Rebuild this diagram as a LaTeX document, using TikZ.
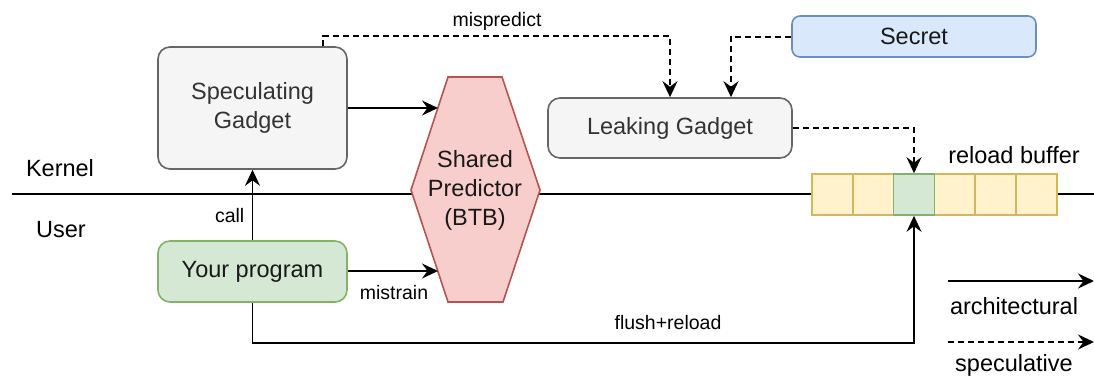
\documentclass[tikz,border=0pt]{standalone}
\usepackage{fontspec}
\setmainfont{Liberation Sans}
\usetikzlibrary{arrows.meta}
\definecolor{grayfill}{HTML}{F5F5F5}
\definecolor{graydraw}{HTML}{666666}
\definecolor{graytext}{HTML}{333333}
\definecolor{greenfill}{HTML}{D5E8D4}
\definecolor{greendraw}{HTML}{82B366}
\definecolor{bluefill}{HTML}{DAE8FC}
\definecolor{bluedraw}{HTML}{6C8EBF}
\definecolor{redfill}{HTML}{F8CECC}
\definecolor{reddraw}{HTML}{B85450}
\definecolor{yelfill}{HTML}{FFF2CC}
\definecolor{yeldraw}{HTML}{D6B656}
\tikzset{
  bigtext/.style={font=\fontsize{23.5}{29}\selectfont},
  smalltext/.style={font=\fontsize{19.5}{23}\selectfont},
  box/.style={rounded corners=12pt, line width=1.6pt, inner sep=0pt, bigtext},
  graybox/.style={box, fill=grayfill, draw=graydraw, text=graytext},
  cell/.style={draw=yeldraw, fill=yelfill, line width=1.6pt, minimum width=40.8pt, minimum height=41pt, inner sep=0pt},
  hitcell/.style={cell, draw=greendraw, fill=greenfill},
  arch/.style={line width=1.8pt, -{Stealth[length=16pt,width=15pt,inset=5.5pt]}},
  specarrow/.style={arch, line width=2pt, dash pattern=on 6pt off 4pt},
}
\begin{document}
\begin{tikzpicture}[x=1pt,y=-1pt]
\useasboundingbox (0,0) rectangle (1094,376);
% kernel/user line
\coordinate (lineL) at (12,194);
\coordinate (lineR) at (1094,194);
\draw[line width=1.6pt] (lineL) -- (lineR);
\node[bigtext] (kernel) at (60,168) {Kernel};
\node[bigtext] (user) at (61,230) {User};
% hexagon
\fill[redfill, draw=reddraw, line width=1.6pt]
  (448,77) -- (502,77) -- (540,190) -- (503,302) -- (448,302) -- (411,190) -- cycle;
\node[bigtext, align=center, text=black!90] (pred) at (475,190) {Shared\\Predictor\\(BTB)};
\coordinate (predA) at (438,108);
\coordinate (predB) at (438,271);
% boxes
\node[graybox, minimum width=189pt, minimum height=122pt, align=center] (specg) at (252.5,108) {Speculating\\Gadget};
\node[box, fill=greenfill, draw=greendraw, text=black!90, minimum width=189pt, minimum height=61pt] (prog) at (252.5,271.5) {Your program};
\node[graybox, minimum width=244pt, minimum height=60pt] (leak) at (670,128) {Leaking Gadget};
\node[box, rounded corners=8pt, fill=bluefill, draw=bluedraw, text=black!90, minimum width=244pt, minimum height=41pt] (secret) at (914,36.5) {Secret};
% reload buffer
\node[cell] (c1) at (832.4,194.5) {};
\node[cell] (c2) at (873.2,194.5) {};
\node[cell] (c4) at (954.8,194.5) {};
\node[cell] (c5) at (995.6,194.5) {};
\node[cell] (c6) at (1036.4,194.5) {};
\node[hitcell] (c3) at (914,194.5) {};
\node[bigtext] (rb) at (1014,155) {reload buffer};
% connectors
\draw[arch] (prog.north) -- (specg.south) node[pos=0.35, left=4pt, smalltext] (calllbl) {call};
\draw[arch] (specg.east |- predA) -- (predA);
\draw[arch] (prog.east |- predB) -- (predB);
\node[smalltext] (mistrain) at (394,293) {mistrain};
\coordinate (mp1) at (323,36);
\coordinate (mp2) at (670,36);
\draw[specarrow] (specg.north -| mp1) -- (mp1) -- (mp2) -- (leak.north);
\node[smalltext] (mispred) at (497,21) {mispredict};
\coordinate (sc1) at (731,36.5);
\draw[specarrow] (secret.west) -- (sc1) -- (sc1 |- leak.north);
\coordinate (lk1) at (914,128);
\draw[specarrow] (leak.east) -- (lk1) -- (c3.north);
\coordinate (fr1) at (252.5,343);
\coordinate (fr2) at (914,343);
\draw[arch] (prog.south) -- (fr1) -- (fr2) -- (c3.south);
\node[smalltext] (fr) at (668,323) {flush+reload};
% legend
\coordinate (l1a) at (948,281);
\coordinate (l1b) at (1094,281);
\coordinate (l2a) at (948,342);
\coordinate (l2b) at (1094,342);
\draw[arch] (l1a) -- (l1b);
\node[bigtext] (archlbl) at (1014,306) {architectural};
\draw[specarrow] (l2a) -- (l2b);
\node[bigtext] (speclbl) at (1014,365) {speculative};
\end{tikzpicture}
\end{document}
